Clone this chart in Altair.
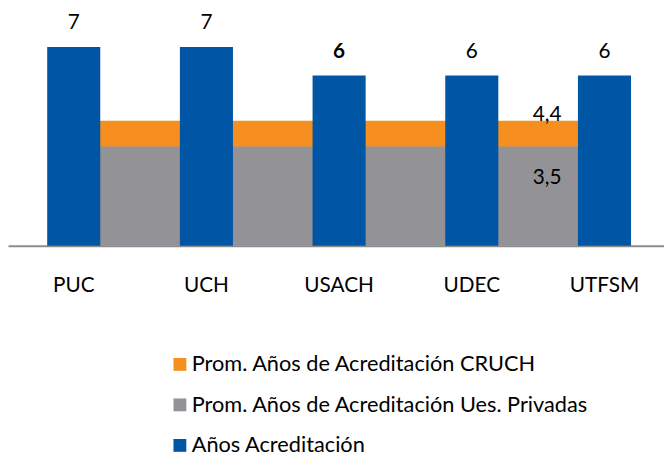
import altair as alt
import pandas as pd

universidades = ["PUC", "UCH", "USACH", "UDEC", "UTFSM"]
anos_acreditacion = [7, 7, 6, 6, 6]
prom_cruch = [4.4, 4.4, 4.4, 4.4, 4.4]
prom_privadas = [3.5, 3.5, 3.5, 3.5, 3.5]

serie_cruch = "Prom. Años de Acreditación CRUCH"
serie_priv = "Prom. Años de Acreditación Ues. Privadas"
serie_anos = "Años Acreditación"

series = [serie_cruch, serie_priv, serie_anos]
colores = ["#F68F1F", "#939296", "#0055A5"]

FONT = "Lato"

df_cruch = pd.DataFrame({"uni": universidades, "valor": prom_cruch, "serie": serie_cruch})
df_priv = pd.DataFrame({"uni": universidades, "valor": prom_privadas, "serie": serie_priv})
df_anos = pd.DataFrame({"uni": universidades, "valor": anos_acreditacion, "serie": serie_anos})

def fmt(v):
    return f"{v:g}".replace(".", ",")

df_anos["etiqueta"] = [fmt(v) for v in anos_acreditacion]
df_lbl_cruch = pd.DataFrame({"uni": [universidades[-1]], "valor": [prom_cruch[-1]],
                             "etiqueta": [fmt(prom_cruch[-1])]})
df_lbl_priv = pd.DataFrame({"uni": [universidades[-1]], "valor": [prom_privadas[-1]],
                            "etiqueta": [fmt(prom_privadas[-1])]})

xscale = alt.Scale(domain=universidades, paddingInner=0.6, paddingOuter=0.272, align=0.543)
yscale = alt.Scale(domain=[0, 8], nice=False, zero=True)
cscale = alt.Scale(domain=series, range=colores)

xaxis = alt.Axis(title=None, labelFont=FONT, labelFontSize=21, labelColor="#000000",
                 ticks=False, domainColor="#8C8C8C", domainWidth=2, labelPadding=29,
                 labelAngle=0, grid=False)

legend = alt.Legend(title=None, orient="none", legendX=163, legendY=339, direction="vertical",
                    symbolType="square", symbolSize=169, symbolStrokeWidth=0,
                    labelFont=FONT, labelFontSize=22, labelColor="#000000",
                    labelLimit=600, labelOffset=1, rowPadding=19)

X = alt.X("uni:N", sort=universidades, scale=xscale, axis=xaxis)
Y = alt.Y("valor:Q", scale=yscale, axis=None, stack=None)
C = alt.Color("serie:N", scale=cscale, legend=legend)

area_cruch = alt.Chart(df_cruch).mark_area(opacity=1).encode(x=X, y=Y, color=C)
area_priv = alt.Chart(df_priv).mark_area(opacity=1).encode(x=X, y=Y, color=C)
barras = alt.Chart(df_anos).mark_bar().encode(x=X, y=Y, color=C)

texto_barras = alt.Chart(df_anos).mark_text(
    font=FONT, fontSize=21, dy=-18, baseline="alphabetic", color="#000000"
).encode(x=X, y=Y, text="etiqueta:N").transform_filter(alt.datum.uni != "USACH")

texto_bold = alt.Chart(df_anos).mark_text(
    font=FONT, fontSize=21, dy=-18, baseline="alphabetic", color="#000000", fontWeight="bold"
).encode(x=X, y=Y, text="etiqueta:N").transform_filter(alt.datum.uni == "USACH")

texto_cruch = alt.Chart(df_lbl_cruch).mark_text(
    font=FONT, fontSize=21, dx=-58, dy=0, baseline="alphabetic", color="#000000"
).encode(x=X, y=Y, text="etiqueta:N")

texto_priv = alt.Chart(df_lbl_priv).mark_text(
    font=FONT, fontSize=21, dx=-58, dy=38.5, baseline="alphabetic", color="#000000"
).encode(x=X, y=Y, text="etiqueta:N")

chart = alt.layer(area_cruch, area_priv, barras, texto_barras, texto_bold, texto_cruch, texto_priv).properties(
    width=664, height=230,
    padding={"left": 0, "top": 8, "right": 0, "bottom": 210},
    autosize=alt.AutoSizeParams(type="none"),
).configure_view(stroke=None)

chart.save("out.html", embed_options={"renderer": "svg", "actions": False})
